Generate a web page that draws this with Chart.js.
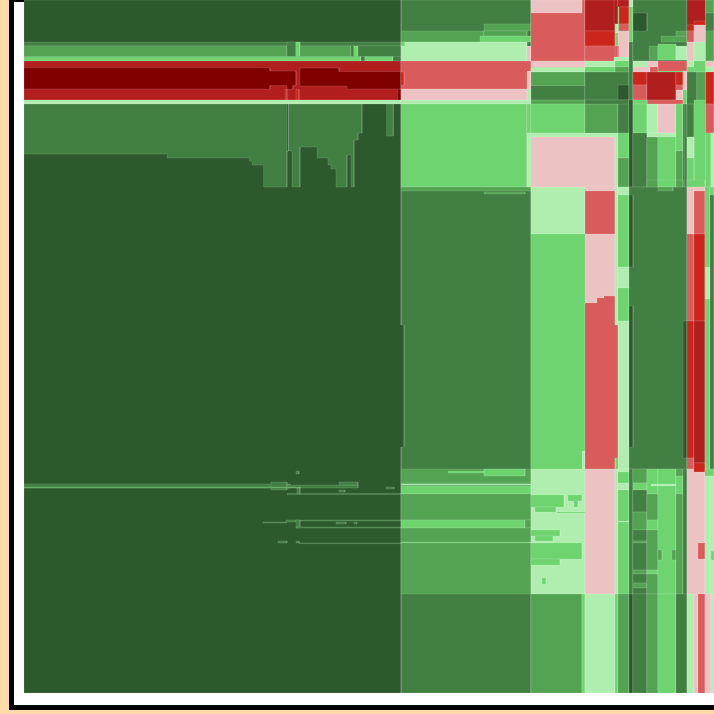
<!DOCTYPE html>
<html>
<head>
<meta charset="utf-8">
<script src="https://cdn.jsdelivr.net/npm/chart.js"></script>
<style>
  html, body { margin: 0; width: 714px; height: 714px; overflow: hidden; background: #fedcaa; }
  #frame { position: absolute; left: 9px; top: -3px; width: 800px; height: 703px; box-sizing: content-box; border: 5px solid #000; background: #fff; }
  #myChart { position: absolute; left: 0; top: 0; }
</style>
</head>
<body>
<div id="frame"></div>
<canvas id="myChart" width="714" height="714"></canvas>
<script>
const levelColors = ["#2d5a2d", "#417f42", "#53a352", "#6dd46f", "#b0eeb0", "#ecc2c2", "#d95b5b", "#cc261c", "#b01e1e", "#800000"];

// every cell: [xFrom, xTo, yFrom, yTo, level], later cells paint over earlier ones
const backgroundCells = [
  [401, 531, 0, 693, 1],
  [531, 714, 0, 693, 3],
];

const leftCells = [
  [24, 401, 42, 46, 1], [24, 287, 46, 56.5, 2], [287, 296, 42, 56.5, 1], [296, 300, 42, 56.5, 3], [300, 351, 46, 56.5, 2],
  [351, 354, 46, 56.5, 1], [354, 358, 46, 56.5, 3], [358, 401, 46, 56.5, 1],
  [24, 361, 56.5, 61, 3], [361, 365, 56.5, 61, 1], [365, 393, 56.5, 61, 3], [393, 401, 56.5, 61, 1],
  [24, 401, 61, 100, 8],
  [397.7, 401, 89, 100, 9],
  [285, 287, 89, 100, 7], [296, 299, 89, 100, 7],
  [24, 401, 100, 104, 4],
];

// stepped regions: [level, x, y, x, y, ...] corner by corner
const leftBlockSteps = [
  [0, 24, 0, 401, 0, 401, 325, 404, 325, 404, 447, 401, 447, 401, 693, 24, 693],
];
const redSteps = [
  [9, 24, 67.7, 270, 67.7, 270, 71, 296, 71, 296, 85.5, 293, 85.5, 293, 89, 287, 89, 287, 85.5, 270, 85.5, 270, 89, 24, 89],
  [9, 300, 68, 339, 68, 339, 71.5, 401, 71.5, 401, 89, 347, 89, 347, 86, 300, 86],
];
const greenSteps = [
  [1, 24, 104, 362, 104, 362, 133, 358, 133, 358, 140, 354, 140, 354, 187, 351, 187, 351, 155, 347, 155, 347, 187, 336, 187, 336, 169, 331, 169, 331, 165, 328, 165, 328, 158, 317, 158, 317, 147, 300, 147, 300, 187, 292, 187, 292, 151, 287, 151, 287, 187, 263.6, 187, 263.6, 165, 252, 165, 252, 161, 249, 161, 249, 158, 167, 158, 167, 154, 24, 154],
];

const leftThinCells = [
  [287, 288.5, 104, 151, 0], [386.6, 393.3, 104, 136, 1],
  [24, 290, 484, 488, 1], [271, 287, 482, 490, 1], [287, 358, 485, 488, 1], [339, 358, 482, 485, 1], [386, 394, 487, 489, 1],
  [339, 345, 490, 492, 1], [297, 300, 488, 494, 1], [287, 401, 493.5, 494.5, 1], [24, 300, 487, 488, 2],
  [296, 299, 471, 474, 1], [263, 286, 522, 523, 1], [286, 297, 520, 522, 1], [296, 401, 520, 521, 1], [296, 300, 520, 528, 1],
  [296, 401, 527, 528, 1], [336, 346, 522, 524, 1], [354, 357, 522, 524, 1], [278, 287, 541, 543, 1], [296, 299, 541, 543, 1],
  [299, 401, 543, 543.6, 1],
];

const middleCells = [
  [484, 531, 24, 31, 2], [401, 484, 31, 42, 2], [484, 527, 31, 36, 2], [480, 531, 36, 42, 3],
  [401, 527, 42, 61, 4], [527, 531, 46, 61, 5], [401, 405, 42, 46, 3],
  [401, 531, 61, 89, 6], [527, 531, 71, 89, 5], [401, 527, 89, 100, 5], [527, 531, 89, 104, 4],
  [401, 404, 72, 85, 7],
  [401, 531, 100, 104, 4], [401, 527, 104, 187, 3], [527, 531, 104, 133, 3], [527, 531, 133, 187, 4],
  [401, 531, 187, 191, 2], [484, 525, 192, 194, 2],
  [401, 531, 469, 483, 2], [448, 484, 471, 473, 3], [484, 525, 469, 476, 3],
  [401, 531, 483, 486, 2], [401, 531, 484, 485, 4], [401, 531, 486, 494, 3], [401, 531, 494, 520, 2],
  [401, 525, 520, 528, 3], [525, 531, 520, 528, 2], [401, 531, 528, 594, 2], [401, 531, 542, 543, 3],
];

const rightTopCells = [
  [531, 585, 0, 61, 6], [531, 582, 0, 13, 5], [531, 585, 61, 67.5, 5], [531, 585, 67.5, 72, 4], [531, 585, 72, 85.5, 2],
  [531, 585, 85.5, 100, 1], [531, 585, 100, 104, 2], [531, 585, 104, 133, 3], [527, 618, 133, 187, 4], [531, 615, 137, 187, 5],
  [585, 615, 0, 31, 8], [614, 618, 0, 24, 8], [618, 629, 0, 7, 8], [619, 629, 7, 24, 7], [619, 629, 24, 31, 6],
  [618, 629, 31, 57, 5], [615, 618, 24, 33, 4], [585, 615, 31, 46, 7], [585, 619, 46, 61, 6], [615, 618, 46, 57, 6], [614, 629, 57, 61, 4],
  [585, 615, 61, 67, 4], [615, 629, 61, 67, 3], [585, 615, 67, 72, 3], [615, 629, 67, 72, 2],
  [585, 629, 72, 100, 1], [618, 629, 85, 100, 0], [585, 618, 104, 133, 2], [618, 629, 100, 133, 1], [585, 629, 100, 104, 1],
  [618, 629, 133, 158, 3], [618, 629, 158, 187, 2],
  [629, 633, 0, 7, 4], [629, 633, 7, 42, 3], [629, 633, 42, 100, 1], [629, 633, 100, 187, 0],
  [633, 687, 0, 61, 1], [633, 647, 13, 31, 0], [661, 687, 36, 42, 2], [676, 687, 31, 36, 2], [649, 658, 46, 60, 2], [658, 676, 44, 60, 3], [676, 687, 46, 60, 4],
  [633, 647, 61, 67, 4], [647, 658, 61, 67, 5], [658, 687, 61, 71, 6], [633, 650, 67, 72, 5], [650, 658, 67, 72, 6],
  [633, 647, 72, 85, 7], [633, 647, 85, 100, 6], [647, 676, 72, 100, 8], [676, 683, 72, 85, 7], [676, 683, 85, 90, 6],
  [676, 683, 90, 100, 5], [683, 687, 71, 90, 5], [683, 687, 90, 104, 3], [647, 683, 100, 104, 6], [633, 647, 100, 104, 3],
  [633, 647, 104, 133, 3], [633, 647, 133, 187, 1], [647, 658, 104, 133, 4], [658, 676, 104, 133, 5], [647, 676, 133, 137, 4],
  [647, 658, 137, 187, 2], [658, 676, 137, 187, 3], [676, 683, 104, 151, 3], [676, 683, 151, 187, 2], [683, 687, 104, 187, 1], [683, 684, 104, 187, 0],
  [687, 705.7, 0, 25, 8], [687, 694, 25, 31, 7], [694, 705.7, 21, 25, 7], [687, 694, 31, 42, 6], [694, 705.7, 25, 42, 5], [687, 694, 42, 61, 5], [694, 705.7, 42, 61, 4],
  [687, 694, 61, 67, 4], [694, 705.7, 61, 72, 3], [687, 697, 72, 104, 1], [697, 705.7, 72, 104, 2],
  [687, 694, 104, 137, 1], [694, 705.7, 100, 187, 3], [687, 694, 137, 158, 4], [687, 694, 158, 187, 3],
  [705.7, 714, 0, 13, 2], [705.7, 714, 13, 31, 1], [705.7, 714, 31, 61, 2], [705.7, 714, 61, 67, 5], [705.7, 714, 67, 72, 4],
  [705.7, 714, 72, 104, 7], [705.7, 714, 104, 133, 6], [705.7, 714, 133, 187, 3], [710.7, 714, 133, 187, 4],
];

const rightMiddleCells = [
  [531, 585, 187, 234, 4], [582, 585, 451, 469, 4],
  [585, 615, 187, 469, 5], [585, 615, 191, 234, 6], [615, 618, 187, 325, 4],
  [618, 629, 187, 195, 4], [618, 629, 195, 267, 3], [618, 629, 267, 288, 4], [618, 629, 288, 321, 3], [618, 629, 321, 469, 4],
  [629, 687, 187, 469, 1], [647, 658, 180, 187, 2], [658, 676, 180, 187, 3], [676, 683, 180, 187, 2], [658, 673, 187, 191, 2],
  [629, 633, 195, 267, 0], [629, 633, 306, 447, 0], [683, 687, 321, 458, 0],
  [687, 705, 180, 187, 3], [687, 694, 187, 234, 5], [687, 694, 234, 321, 6], [687, 694, 321, 458, 7], [687, 694, 458, 469, 6],
  [694, 705, 187, 191, 5], [694, 705, 191, 234, 6], [694, 705, 234, 321, 7], [694, 705, 321, 463, 8], [694, 705, 463, 472, 7],
  [705, 710, 187, 469, 3], [705, 710, 267, 299, 4], [710, 714, 187, 469, 1], [710, 714, 187, 195, 3],
];
const pinkSteps = [
  [6, 585, 303, 597, 303, 597, 298, 604, 298, 604, 296, 615, 296, 615, 325, 618, 325, 618, 458, 615, 458, 615, 469, 585, 469],
];

const rightBottomCells = [
  [531, 585, 469, 594, 4], [531, 564, 495, 507, 3], [535, 556, 507, 512, 3], [568, 582, 495, 501, 3], [574, 578, 501, 507, 3],
  [531, 560, 530, 536, 3], [535, 553, 536, 541, 3], [531, 582, 543, 559, 3], [531, 560, 559, 565, 3], [542, 546, 578, 584, 3], [557, 585, 512, 513, 3],
  [585, 615, 469, 594, 5], [615, 618, 469, 594, 4],
  [618, 629, 469, 472, 4], [618, 629, 472, 483, 3], [618, 629, 483, 490, 4], [618, 629, 490, 594, 3], [618, 629, 521, 522, 4],
  [629, 633, 469, 594, 1], [633, 647, 469, 483, 2], [633, 647, 483, 490, 3], [633, 647, 490, 512, 1], [633, 647, 512, 530, 2], [633, 647, 530, 541, 1],
  [633, 647, 541, 543, 2], [633, 647, 543, 570, 1], [633, 647, 570, 574, 2], [633, 647, 574, 583, 1], [633, 647, 583, 588, 2], [633, 647, 588, 594, 1],
  [647, 658, 469, 494, 3], [647, 658, 494, 520, 2], [647, 658, 520, 530, 3], [647, 658, 530, 570, 2], [647, 658, 570, 574, 3], [647, 658, 574, 594, 2],
  [658, 676, 469, 594, 3], [658, 662, 550, 560, 2], [672, 676, 550, 560, 2], [651, 684, 484, 486, 4],
  [676, 683, 469, 594, 2], [676, 683, 476, 494, 3], [683, 687, 469, 594, 1],
  [687, 705, 469, 594, 5], [698, 705, 543, 559, 6], [694, 705, 463, 472, 7], [705, 710, 469, 594, 4], [705, 714, 469, 476, 3], [710, 714, 476, 594, 4], [711, 714, 551, 560, 3],
  [531, 582, 594, 693, 2], [582, 585, 594, 693, 3], [585, 615, 594, 693, 4], [615, 618, 594, 693, 3], [618, 629, 594, 693, 2], [629, 633, 594, 693, 0],
  [633, 647, 594, 693, 1], [647, 658, 594, 693, 2], [658, 676, 594, 693, 3], [676, 687, 594, 693, 1], [687, 694, 594, 693, 4], [694, 698, 594, 693, 5],
  [698, 705, 594, 693, 6], [705, 711, 594, 693, 5], [711, 714, 594, 693, 4],
];

const cellShape = ([x0, x1, y0, y1, level]) => ({
  level,
  points: [{ x: x0, y: y0 }, { x: x1, y: y0 }, { x: x1, y: y1 }, { x: x0, y: y1 }, { x: x0, y: y0 }],
});
const stepShape = ([level, ...corners]) => {
  const points = [];
  for (let i = 0; i < corners.length; i += 2) points.push({ x: corners[i], y: corners[i + 1] });
  points.push(points[0]);
  return { level, points };
};

const shapes = [
  ...backgroundCells.map(cellShape),
  ...leftBlockSteps.map(stepShape),
  ...leftCells.map(cellShape),
  ...redSteps.map(stepShape),
  ...greenSteps.map(stepShape),
  ...leftThinCells.map(cellShape),
  ...middleCells.map(cellShape),
  ...rightTopCells.map(cellShape),
  ...rightMiddleCells.map(cellShape),
  ...pinkSteps.map(stepShape),
  ...rightBottomCells.map(cellShape),
];

const canvas = document.getElementById("myChart");
new Chart(canvas, {
  type: "scatter",
  data: {
    datasets: shapes.map((shape, i) => ({
      data: shape.points,
      showLine: true,
      fill: "shape",
      tension: 0,
      pointRadius: 0,
      backgroundColor: levelColors[shape.level],
      borderColor: "rgba(255, 255, 255, 0.12)",
      borderWidth: 1,
      order: shapes.length - i,
    })),
  },
  options: {
    responsive: false,
    animation: false,
    layout: { padding: { left: 24, right: 0, top: 0, bottom: 20 } },
    plugins: { legend: { display: false }, tooltip: { enabled: false } },
    scales: {
      x: { type: "linear", min: 24, max: 714, display: false },
      y: { type: "linear", min: 0, max: 694, reverse: true, display: false },
    },
  },
});
</script>
</body>
</html>
